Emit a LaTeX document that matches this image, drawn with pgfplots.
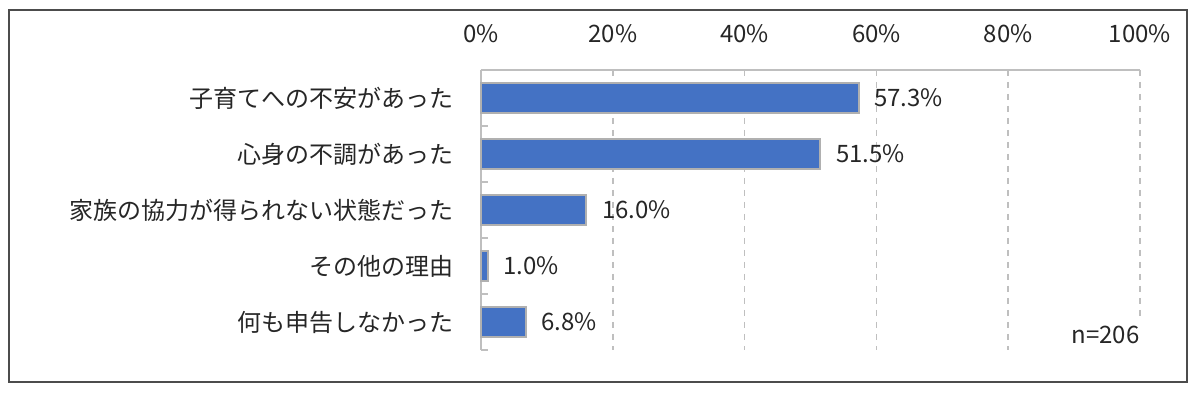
\documentclass[border=0pt]{standalone}
\usepackage{pgfplots}
\pgfplotsset{compat=1.18}
\usepackage{fontspec}
\setmainfont{Noto Sans CJK JP}
\definecolor{barblue}{HTML}{4472C4}
\definecolor{gridgray}{HTML}{BFBFBF}
\definecolor{bordergray}{HTML}{B0B0B0}
\definecolor{txt}{HTML}{262626}
\begin{document}
\begin{tikzpicture}[x=1pt,y=1pt]
\path[use as bounding box] (0,0) rectangle (600,197.5);
\draw[draw=black!70, line width=0.8pt] (4.5,6.5) rectangle (593.5,192.5);
\begin{axis}[
  at={(240.5pt,22.5pt)}, anchor=south west,
  scale only axis, width=329.5pt, height=140pt,
  xmin=0, xmax=100, ymin=-0.5, ymax=4.5, y dir=reverse,
  axis x line*=top, axis y line*=left,
  axis line style={draw=gridgray, line width=1pt},
  /pgf/number format/assume math mode=true,
  xtick={0,20,40,60,80,100},
  xticklabels={0\%,20\%,40\%,60\%,80\%,100\%},
  xmajorgrids, grid style={dashed, gridgray, line width=0.8pt},
  major x tick style={draw=none},
  xticklabel style={font=\fontsize{12}{14}\selectfont, text=txt, yshift=10pt},
  ytick={0,1,2,3,4},
  yticklabels={子育てへの不安があった,心身の不調があった,家族の協力が得られない状態だった,その他の理由,何も申告しなかった},
  major y tick style={draw=none},
  yticklabel style={font=\fontsize{12}{14}\selectfont, text=txt, xshift=-6pt},
  xbar, bar width=15pt,
  nodes near coords={\pgfmathprintnumber[fixed,fixed zerofill,precision=1]{\pgfplotspointmeta}\%},
  point meta=x,
  every node near coord/.append style={font=\fontsize{12}{14}\selectfont, text=txt, anchor=west, xshift=4pt},
  clip=false,
]
\pgfplotsinvokeforeach{-0.5,0.5,1.5,2.5,3.5,4.5}{
  \draw[gridgray, line width=1pt] (axis cs:0,#1) -- ([xshift=3.5pt]axis cs:0,#1);
}
\addplot[fill=barblue, draw=bordergray, line width=1pt] coordinates {
  (57.3,0) (51.5,1) (16.0,2) (1.0,3) (6.8,4)
};
\node[anchor=south east, fill=white, inner sep=3pt, xshift=3pt, font=\fontsize{12}{14}\selectfont, text=txt] at (axis cs:100,4.5) {n=206};
\end{axis}
\end{tikzpicture}
\end{document}
